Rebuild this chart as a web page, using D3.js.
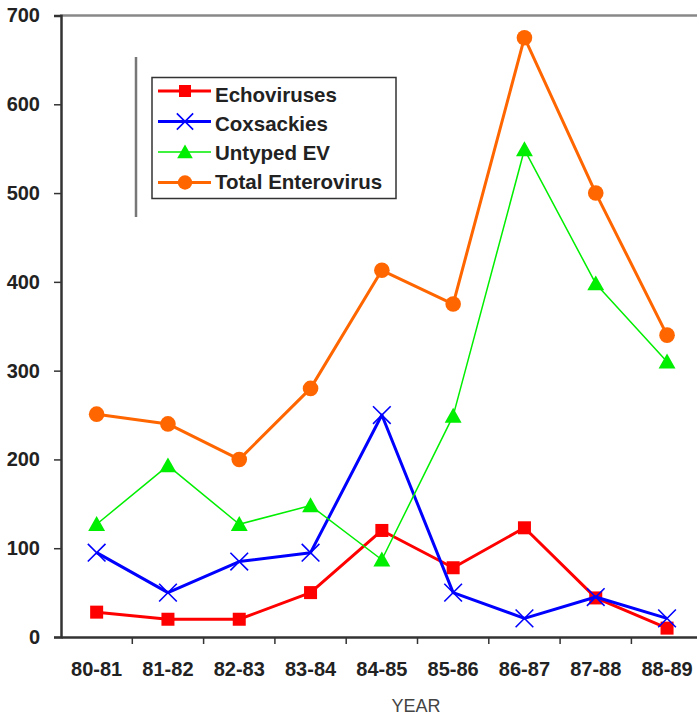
<!DOCTYPE html>
<html>
<head>
<meta charset="utf-8">
<script src="https://cdn.jsdelivr.net/npm/d3@7"></script>
<style>
  body { margin: 0; background: #fff; }
  svg { display: block; font-family: "Liberation Sans", Arial, sans-serif; }
</style>
</head>
<body>
<div id="chart"></div>
<script>
// seasons and counts
const years = ["80-81", "81-82", "82-83", "83-84", "84-85", "85-86", "86-87", "87-88", "88-89"];
const echo = [28, 20, 20, 50, 120, 78, 123, 44, 10];
const coxsackie = [95, 50, 85, 95, 250, 50, 21, 45, 21];
const untyped = [127, 193, 127, 148, 87, 249, 549, 398, 310];
const total = [251, 240, 200, 280, 413, 375, 675, 500, 340];
const yTicks = [0, 100, 200, 300, 400, 500, 600, 700];

const series = [
  { name: "Echoviruses", values: echo, color: "#ff0000", width: 3, marker: "square" },
  { name: "Coxsackies", values: coxsackie, color: "#0000ff", width: 3, marker: "cross" },
  { name: "Untyped EV", values: untyped, color: "#00ee00", width: 1.5, marker: "triangle" },
  { name: "Total Enterovirus", values: total, color: "#ff6600", width: 3, marker: "circle" }
];

const width = 697, height = 717;
const plotLeft = 61, plotTop = 15.5;

const svg = d3.select("#chart").append("svg")
  .attr("width", width)
  .attr("height", height);

const x = d3.scaleBand().domain(years).range([plotLeft, plotLeft + 9 * 71.3]);
const y = d3.scaleLinear().domain([0, 700]).range([637, plotTop]);

// top frame line
svg.append("line")
  .attr("x1", plotLeft - 1).attr("x2", width)
  .attr("y1", y(700)).attr("y2", y(700))
  .attr("stroke", "#888").attr("stroke-width", 2.5);

// y axis
const yAxis = svg.append("g")
  .attr("transform", `translate(${plotLeft},0)`)
  .call(d3.axisLeft(y).tickValues(yTicks).tickSize(7).tickPadding(14));
yAxis.select(".domain").attr("stroke", "#333").attr("stroke-width", 2.5);
yAxis.selectAll(".tick line").attr("stroke", "#333").attr("stroke-width", 1.5);
yAxis.selectAll("text")
  .attr("font-size", 20).attr("font-weight", "bold").attr("fill", "#222");

// x axis, ticks sit on band edges
const xAxis = svg.append("g")
  .attr("transform", `translate(0,${y(0)})`)
  .call(d3.axisBottom(x).tickSize(0));
xAxis.select(".domain").attr("stroke", "#333").attr("stroke-width", 2.5);
xAxis.selectAll("text")
  .attr("y", 39).attr("dy", null)
  .attr("font-size", 20).attr("font-weight", "bold").attr("fill", "#222");
svg.append("g").selectAll("line")
  .data(years.slice(1))
  .enter().append("line")
  .attr("x1", d => x(d)).attr("x2", d => x(d))
  .attr("y1", y(0)).attr("y2", y(0) + 7)
  .attr("stroke", "#333").attr("stroke-width", 1.5);

svg.append("text")
  .attr("x", 416).attr("y", 712)
  .attr("text-anchor", "middle")
  .attr("font-size", 18).attr("fill", "#444")
  .text("YEAR");

const cx = d => x(d) + x.bandwidth() / 2;

function drawMarker(g, type, color, size) {
  if (type === "square") {
    g.append("rect").attr("x", -size / 2).attr("y", -size / 2)
      .attr("width", size).attr("height", size).attr("fill", color);
  } else if (type === "circle") {
    g.append("circle").attr("r", size * 0.6).attr("fill", color);
  } else if (type === "triangle") {
    const w = size * 1.3, h = size * 1.15;
    g.append("path")
      .attr("d", `M0,${-h * 0.55} L${w / 2},${h * 0.45} L${-w / 2},${h * 0.45} Z`)
      .attr("fill", color);
  } else if (type === "cross") {
    const s = size * 0.68;
    g.append("path")
      .attr("d", `M${-s},${-s} L${s},${s} M${-s},${s} L${s},${-s}`)
      .attr("stroke", color).attr("stroke-width", 1.6).attr("fill", "none");
  }
}

const line = d3.line()
  .x((d, i) => cx(years[i]))
  .y(d => y(d));

series.forEach(s => {
  svg.append("path")
    .datum(s.values)
    .attr("fill", "none")
    .attr("stroke", s.color)
    .attr("stroke-width", s.width)
    .attr("stroke-linejoin", "round")
    .attr("d", line);
  svg.append("g").selectAll("g")
    .data(s.values)
    .enter().append("g")
    .attr("transform", (d, i) => `translate(${cx(years[i])},${y(d)})`)
    .each(function () { drawMarker(d3.select(this), s.marker, s.color, 13); });
});

// legend
svg.append("line")
  .attr("x1", 136).attr("x2", 136).attr("y1", 57).attr("y2", 217)
  .attr("stroke", "#777").attr("stroke-width", 2.5);
const legend = svg.append("g");
legend.append("rect")
  .attr("x", 152).attr("y", 77.5).attr("width", 244).attr("height", 121)
  .attr("fill", "#fff").attr("stroke", "#333").attr("stroke-width", 1.5);
series.forEach((s, i) => {
  const ly = 91 + i * 30.5;
  legend.append("line")
    .attr("x1", 158).attr("x2", 211).attr("y1", ly).attr("y2", ly)
    .attr("stroke", s.color).attr("stroke-width", s.width);
  const mg = legend.append("g").attr("transform", `translate(185,${ly})`);
  drawMarker(mg, s.marker, s.color, 12);
  legend.append("text")
    .attr("x", 215).attr("y", 101.5 + i * 29.2)
    .attr("font-size", 20.5).attr("font-weight", "bold").attr("fill", "#222")
    .text(s.name);
});
</script>
</body>
</html>
